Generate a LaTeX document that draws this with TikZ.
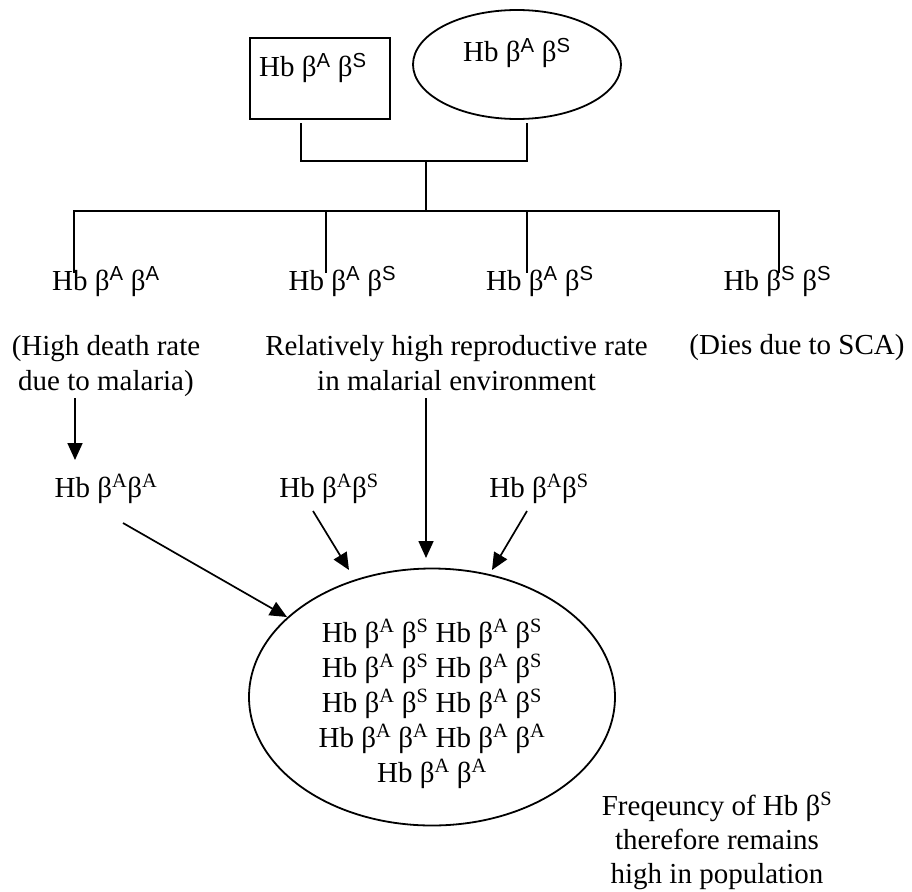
\documentclass[tikz,border=0pt]{standalone}
\usepackage{fontspec}
\setmainfont{Liberation Serif}
\newfontfamily\supsans{Liberation Sans}
\usetikzlibrary{arrows.meta,shapes.geometric}
% allele superscripts: sans for the cross, serif for the population
\newcommand{\ssup}[1]{\textsuperscript{\supsans #1}}
\newcommand{\rsup}[1]{\textsuperscript{#1}}
\begin{document}
\begin{tikzpicture}[x=1pt,y=-1pt,
  every node/.style={inner sep=0pt, outer sep=0pt, font=\fontsize{29}{35}\selectfont},
  link/.style={line width=1.8pt},
  arr/.style={line width=1.7pt, -{Triangle[length=17pt,width=15pt]}},
  shape box/.style={draw, line width=1.8pt},
  lbl/.style={anchor=base, align=center}]
\useasboundingbox (0,0) rectangle (912,891);

% parents
\node[shape box, anchor=north west, minimum width=140pt, minimum height=81pt] (father) at (250,38) {};
\node[lbl] (fatherTxt) at (313,77) {Hb β\ssup{A} β\ssup{S}};
\node[shape box, ellipse, minimum width=208pt, minimum height=109pt] (mother) at (517,64.5) {};
\node[lbl] (motherTxt) at (517,62) {Hb β\ssup{A} β\ssup{S}};

% cross bracket
\coordinate (fa) at (301,123);
\coordinate (mo) at (527,123);
\coordinate (fa1) at (301,161);
\coordinate (mo1) at (527,161);
\coordinate (mid) at (426,161);
\coordinate (hub) at (426,211);
\draw[link] (fa) -- (fa1) -- (mo1) -- (mo);
\draw[link] (mid) -- (hub);

% offspring
\node[lbl] (c1) at (106,290) {Hb β\ssup{A} β\ssup{A}};
\node[lbl] (c2) at (342.5,290) {Hb β\ssup{A} β\ssup{S}};
\node[lbl] (c3) at (540,290) {Hb β\ssup{A} β\ssup{S}};
\node[lbl] (c4) at (777.5,290) {Hb β\ssup{S} β\ssup{S}};

\coordinate (b1) at (74,211);
\coordinate (b2) at (326,211);
\coordinate (b3) at (527,211);
\coordinate (b4) at (779,211);
\coordinate (d1) at (74,273);
\coordinate (d2) at (326,273);
\coordinate (d3) at (527,273);
\coordinate (d4) at (779,273);
\draw[link] (d1) -- (b1) -- (b4) -- (d4);
\draw[link] (b2) -- (d2);
\draw[link] (b3) -- (d3);

% fates (base anchor sits on the last line)
\node[lbl] (f1) at (106,390) {(High death rate\\due to malaria)};
\node[lbl] (f2) at (456.5,390) {Relatively high reproductive rate\\in malarial environment};
\node[lbl] (f4) at (797,354) {(Dies due to SCA)};

% survivors
\node[lbl] (s1) at (106,497) {Hb β\rsup{A}β\rsup{A}};
\node[lbl] (s2) at (329,497) {Hb β\rsup{A}β\rsup{S}};
\node[lbl] (s3) at (539,497) {Hb β\rsup{A}β\rsup{S}};

% population pool
\node[shape box, ellipse, minimum width=366pt, minimum height=257pt] (pool) at (432,697) {};
\node[lbl] (poolTxt) at (432,782) {Hb β\rsup{A} β\rsup{S} Hb β\rsup{A} β\rsup{S}\\
Hb β\rsup{A} β\rsup{S} Hb β\rsup{A} β\rsup{S}\\
Hb β\rsup{A} β\rsup{S} Hb β\rsup{A} β\rsup{S}\\
Hb β\rsup{A} β\rsup{A} Hb β\rsup{A} β\rsup{A}\\
Hb β\rsup{A} β\rsup{A}};

\node[lbl, font=\fontsize{29}{34}\selectfont] (concl) at (717,883) {Freqeuncy of Hb β\rsup{S}\\therefore remains\\high in population};

% arrows
\coordinate (a1s) at (75,398);
\coordinate (a1e) at (75,460);
\draw[arr] (a1s) -- (a1e);
\coordinate (a2s) at (426,398);
\coordinate (a2e) at (426,558);
\draw[arr] (a2s) -- (a2e);
\coordinate (a3s) at (123,523);
\coordinate (a3e) at (287,617);
\draw[arr] (a3s) -- (a3e);
\coordinate (a4s) at (313,511);
\coordinate (a4e) at (349,570);
\draw[arr] (a4s) -- (a4e);
\coordinate (a5s) at (527,511);
\coordinate (a5e) at (492,570);
\draw[arr] (a5s) -- (a5e);
\end{tikzpicture}
\end{document}
